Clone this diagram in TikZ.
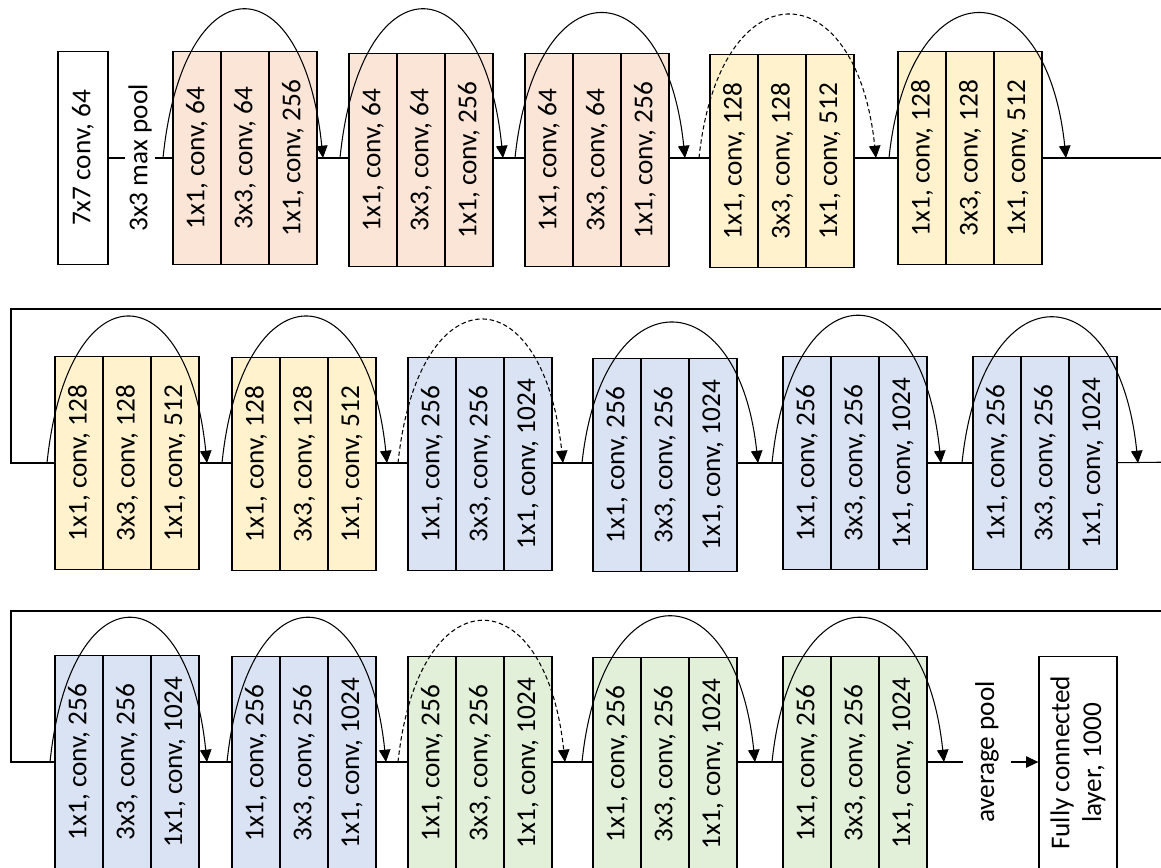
\documentclass[tikz,border=0pt]{standalone}
\usepackage{fontspec}
\setmainfont{Carlito}
\usetikzlibrary{arrows.meta}
\definecolor{stageOne}{HTML}{FBE5D6}
\definecolor{stageTwo}{HTML}{FFF2CC}
\definecolor{stageThree}{HTML}{DAE3F3}
\definecolor{stageFour}{HTML}{E2F0D9}

\begin{document}
\begin{tikzpicture}[x=0.02cm, y=0.02cm,
        convnode/.style={draw=black, line width=0.75pt, rotate=90, minimum width=4.26cm, minimum height=0.96cm, inner sep=0pt, font=\fontsize{15.5}{18}\selectfont},
        pinknode/.style={convnode, fill=stageOne},
        yellownode/.style={convnode, fill=stageTwo},
        bluenode/.style={convnode, fill=stageThree},
        greennode/.style={convnode, fill=stageFour},
        whitenode/.style={convnode, fill=white},
        poolnode/.style={rotate=90, inner sep=1.5pt, font=\fontsize{15.5}{18}\selectfont},
        flowline/.style={line width=0.6pt},
        skiparrow/.style={line width=0.6pt, -{Triangle[width=6.5pt,length=7pt]}},
        projarrow/.style={skiparrow, dash pattern=on 2.5pt off 1.6pt},
    ]

    \useasboundingbox (0,0) rectangle (1161,-867);
    \clip (0,0) rectangle (1161,-867);

    % Objects, first row
    \node[whitenode, minimum height=1cm] (conv7) at (83,-158) {7x7 conv, 64};
    \node[poolnode] (maxpool) at (140,-158) {3x3 max pool};
    \node[pinknode] (r1b1c1) at (197,-158) {1x1, conv, 64};
    \node[pinknode] (r1b1c2) at (245,-158) {3x3, conv, 64};
    \node[pinknode] (r1b1c3) at (293,-158) {1x1, conv, 256};
    \node[pinknode] (r1b2c1) at (373,-160) {1x1, conv, 64};
    \node[pinknode] (r1b2c2) at (421,-160) {3x3, conv, 64};
    \node[pinknode] (r1b2c3) at (469,-160) {1x1, conv, 256};
    \node[pinknode] (r1b3c1) at (549,-160) {1x1, conv, 64};
    \node[pinknode] (r1b3c2) at (597,-160) {3x3, conv, 64};
    \node[pinknode] (r1b3c3) at (645,-160) {1x1, conv, 256};
    \node[yellownode] (r1b4c1) at (734,-161) {1x1, conv, 128};
    \node[yellownode] (r1b4c2) at (782,-161) {3x3, conv, 128};
    \node[yellownode] (r1b4c3) at (830,-161) {1x1, conv, 512};
    \node[yellownode] (r1b5c1) at (922,-158) {1x1, conv, 128};
    \node[yellownode] (r1b5c2) at (970,-158) {3x3, conv, 128};
    \node[yellownode] (r1b5c3) at (1018,-158) {1x1, conv, 512};

    % Objects, second row
    \node[yellownode] (r2b1c1) at (79,-463) {1x1, conv, 128};
    \node[yellownode] (r2b1c2) at (127,-463) {3x3, conv, 128};
    \node[yellownode] (r2b1c3) at (175,-463) {1x1, conv, 512};
    \node[yellownode] (r2b2c1) at (256,-464) {1x1, conv, 128};
    \node[yellownode] (r2b2c2) at (304,-464) {3x3, conv, 128};
    \node[yellownode] (r2b2c3) at (352,-464) {1x1, conv, 512};
    \node[bluenode] (r2b3c1) at (432,-464) {1x1, conv, 256};
    \node[bluenode] (r2b3c2) at (480,-464) {3x3, conv, 256};
    \node[bluenode] (r2b3c3) at (528,-464) {1x1, conv, 1024};
    \node[bluenode] (r2b4c1) at (617,-465) {1x1, conv, 256};
    \node[bluenode] (r2b4c2) at (665,-465) {3x3, conv, 256};
    \node[bluenode] (r2b4c3) at (713,-465) {1x1, conv, 1024};
    \node[bluenode] (r2b5c1) at (807,-463) {1x1, conv, 256};
    \node[bluenode] (r2b5c2) at (855,-463) {3x3, conv, 256};
    \node[bluenode] (r2b5c3) at (903,-463) {1x1, conv, 1024};
    \node[bluenode] (r2b6c1) at (997,-463) {1x1, conv, 256};
    \node[bluenode] (r2b6c2) at (1045,-463) {3x3, conv, 256};
    \node[bluenode] (r2b6c3) at (1093,-463) {1x1, conv, 1024};

    % Objects, third row
    \node[bluenode] (r3b1c1) at (79,-762) {1x1, conv, 256};
    \node[bluenode] (r3b1c2) at (127,-762) {3x3, conv, 256};
    \node[bluenode] (r3b1c3) at (175,-762) {1x1, conv, 1024};
    \node[bluenode] (r3b2c1) at (256,-763) {1x1, conv, 256};
    \node[bluenode] (r3b2c2) at (304,-763) {3x3, conv, 256};
    \node[bluenode] (r3b2c3) at (352,-763) {1x1, conv, 1024};
    \node[greennode] (r3b3c1) at (432,-763) {1x1, conv, 256};
    \node[greennode] (r3b3c2) at (480,-763) {3x3, conv, 256};
    \node[greennode] (r3b3c3) at (528,-763) {1x1, conv, 1024};
    \node[greennode] (r3b4c1) at (617,-764) {1x1, conv, 256};
    \node[greennode] (r3b4c2) at (665,-764) {3x3, conv, 256};
    \node[greennode] (r3b4c3) at (713,-764) {1x1, conv, 1024};
    \node[greennode] (r3b5c1) at (807,-763) {1x1, conv, 256};
    \node[greennode] (r3b5c2) at (855,-763) {3x3, conv, 256};
    \node[greennode] (r3b5c3) at (903,-763) {1x1, conv, 1024};
    \node[poolnode, inner sep=7pt] (avgpool) at (987,-752) {average pool};
    \node[whitenode, minimum height=1.56cm, align=center] (fc) at (1078,-763) {Fully connected\\layer, 1000};

    % Free ends
    \coordinate (r1out) at (1180,-158);
    \coordinate (r2in) at (1180,-309);
    \coordinate (r2turn) at (11,-309);
    \coordinate (r2out) at (1180,-462);
    \coordinate (r3in) at (1180,-611);
    \coordinate (r3turn) at (11,-611);

    % Lines
    \draw[flowline] (conv7) -- (maxpool);
    \draw[flowline] (maxpool) -- (r1b1c1);
    \draw[flowline] (r1b1c3.south) -- (r1b1c3.south -| r1b2c1.north);
    \draw[flowline] (r1b2c3.south |- r1b1c3) -- (r1b1c3 -| r1b3c1.north);
    \draw[flowline] (r1b3c3.south |- r1b1c3) -- (r1b1c3 -| r1b4c1.north);
    \draw[flowline] (r1b4c3.south |- r1b1c3) -- (r1b1c3 -| r1b5c1.north);
    \draw[flowline] (r1b5c3) -- (r1out);

    \draw[flowline] (r2in) -- (r2turn) |- (r2b1c1);
    \draw[flowline] (r2b1c3) -- (r2b1c3 -| r2b2c1.north);
    \draw[flowline] (r2b2c3.south |- r2b1c3) -- (r2b1c3 -| r2b3c1.north);
    \draw[flowline] (r2b3c3.south |- r2b1c3) -- (r2b1c3 -| r2b4c1.north);
    \draw[flowline] (r2b4c3.south |- r2b1c3) -- (r2b1c3 -| r2b5c1.north);
    \draw[flowline] (r2b5c3) -- (r2b6c1);
    \draw[flowline] (r2b6c3) -- (r2out);

    \draw[flowline] (r3in) -- (r3turn) |- (r3b1c1);
    \draw[flowline] (r3b1c3) -- (r3b1c3 -| r3b2c1.north);
    \draw[flowline] (r3b2c3.south |- r3b1c3) -- (r3b1c3 -| r3b3c1.north);
    \draw[flowline] (r3b3c3.south |- r3b1c3) -- (r3b1c3 -| r3b4c1.north);
    \draw[flowline] (r3b4c3.south |- r3b1c3) -- (r3b1c3 -| r3b5c1.north);
    \draw[flowline] (r3b5c3.south |- r3b1c3) -- (r3b1c3 -| avgpool.north);
    \draw[skiparrow] (r3b1c3 -| avgpool.south) -- (r3b1c3 -| fc.north);

    % Skip connections
    \coordinate (r1s1) at (163,-158);  \coordinate (r1e1) at (323,-158);
    \coordinate (r1s2) at (340,-158);  \coordinate (r1e2) at (503,-158);
    \coordinate (r1s3) at (515,-158);  \coordinate (r1e3) at (685,-158);
    \coordinate (r1s4) at (699,-158);  \coordinate (r1e4) at (876,-158);
    \coordinate (r1s5) at (889,-158);  \coordinate (r1e5) at (1066,-158);
    \draw[skiparrow] (r1s1) .. controls +(20,197) and +(-20,197) .. (r1e1);
    \draw[skiparrow] (r1s2) .. controls +(20,197) and +(-20,197) .. (r1e2);
    \draw[skiparrow] (r1s3) .. controls +(20,192) and +(-20,192) .. (r1e3);
    \draw[projarrow] (r1s4) .. controls +(20,190) and +(-20,190) .. (r1e4);
    \draw[skiparrow] (r1s5) .. controls +(20,192) and +(-20,192) .. (r1e5);

    \coordinate (r2s1) at (47,-463);   \coordinate (r2e1) at (207,-463);
    \coordinate (r2s2) at (222,-463);  \coordinate (r2e2) at (387,-463);
    \coordinate (r2s3) at (398,-463);  \coordinate (r2e3) at (563,-463);
    \coordinate (r2s4) at (582,-463);  \coordinate (r2e4) at (758,-463);
    \coordinate (r2s5) at (772,-463);  \coordinate (r2e5) at (941,-463);
    \coordinate (r2s6) at (962,-463);  \coordinate (r2e6) at (1138,-463);
    \draw[skiparrow] (r2s1) .. controls +(20,194) and +(-20,194) .. (r2e1);
    \draw[skiparrow] (r2s2) .. controls +(20,194) and +(-20,194) .. (r2e2);
    \draw[projarrow] (r2s3) .. controls +(20,190) and +(-20,190) .. (r2e3);
    \draw[skiparrow] (r2s4) .. controls +(20,186) and +(-20,186) .. (r2e4);
    \draw[skiparrow] (r2s5) .. controls +(20,195) and +(-20,195) .. (r2e5);
    \draw[skiparrow] (r2s6) .. controls +(20,193) and +(-20,193) .. (r2e6);

    \coordinate (r3s1) at (50,-762);   \coordinate (r3e1) at (207,-762);
    \coordinate (r3s2) at (227,-762);  \coordinate (r3e2) at (386,-762);
    \coordinate (r3s3) at (398,-762);  \coordinate (r3e3) at (565,-762);
    \coordinate (r3s4) at (582,-762);  \coordinate (r3e4) at (755,-762);
    \coordinate (r3s5) at (772,-762);  \coordinate (r3e5) at (944,-762);
    \draw[skiparrow] (r3s1) .. controls +(20,191) and +(-20,191) .. (r3e1);
    \draw[skiparrow] (r3s2) .. controls +(20,191) and +(-20,191) .. (r3e2);
    \draw[projarrow] (r3s3) .. controls +(20,187) and +(-20,187) .. (r3e3);
    \draw[skiparrow] (r3s4) .. controls +(20,193) and +(-20,193) .. (r3e4);
    \draw[skiparrow] (r3s5) .. controls +(20,191) and +(-20,191) .. (r3e5);

\end{tikzpicture}
\end{document}
